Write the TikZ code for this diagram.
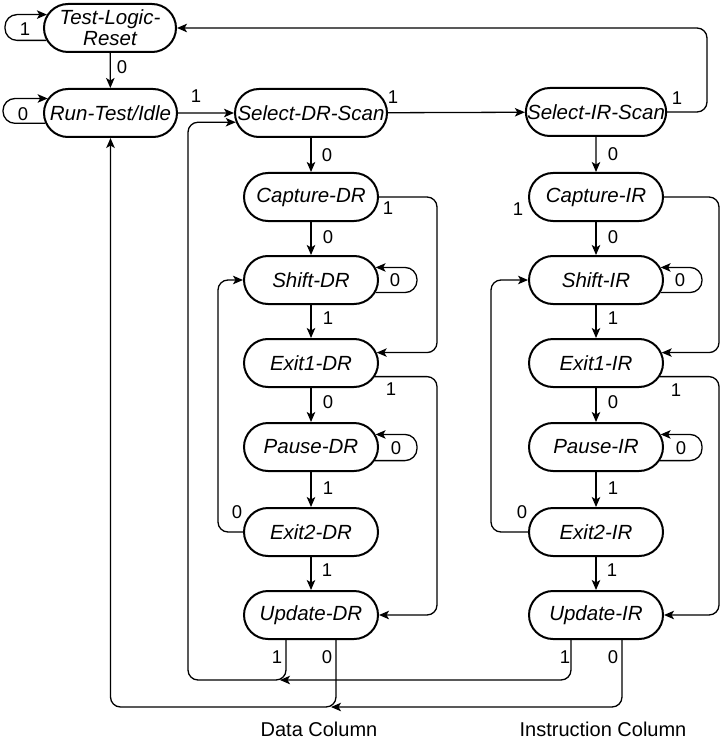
\documentclass[tikz,border=0pt]{standalone}
\usepackage{fontspec}
\setmainfont{Liberation Sans}
\usetikzlibrary{shapes.misc,arrows.meta}
\begin{document}
\begin{tikzpicture}[x=1pt,y=-1pt,
  st/.style={rounded rectangle, draw, line width=2pt, minimum height=48pt, minimum width=134pt, inner sep=0pt, font=\fontsize{20.5}{21}\selectfont\itshape, align=center},
  conn/.style={line width=1.3pt, -{Stealth[length=10pt,width=8.5pt,inset=2.5pt]}, rounded corners=10pt},
  lp/.style={conn, rounded corners=12pt},
  lab/.style={font=\fontsize{18.5}{20}\selectfont, inner sep=0pt},
  ttl/.style={font=\fontsize{20}{22}\selectfont, inner sep=0pt}]
\useasboundingbox (0,0) rectangle (725,743);

% states
\node[st, minimum width=132pt] (tlr) at (110,28) {Test-Logic-\\Reset};
\node[st, minimum width=133pt] (rti) at (110.5,113) {Run-Test/Idle};
\node[st, minimum width=152pt] (sdr) at (311,113) {Select-DR-Scan};
\node[st, minimum width=140pt] (sir) at (596,112) {Select-IR-Scan};

\node[st] (cdr) at (311,197) {Capture-DR};
\node[st] (shdr) at (311,280) {Shift-DR};
\node[st] (e1dr) at (311,363) {Exit1-DR};
\node[st] (pdr) at (311,447) {Pause-DR};
\node[st] (e2dr) at (311,532) {Exit2-DR};
\node[st] (udr) at (311,615) {Update-DR};

\node[st] (cir) at (596,197) {Capture-IR};
\node[st] (shir) at (596,280) {Shift-IR};
\node[st] (e1ir) at (596,363) {Exit1-IR};
\node[st] (pir) at (596,447) {Pause-IR};
\node[st] (e2ir) at (596,532) {Exit2-IR};
\node[st] (uir) at (596,615) {Update-IR};

% helper coordinates
\coordinate (xtl) at (5,0);
\coordinate (xrl) at (3,0);
\coordinate (xtop) at (707,28);
\coordinate (xdl) at (218,0);
\coordinate (xdr) at (437,0);
\coordinate (xdo) at (188,0);
\coordinate (xdloop) at (417,0);
\coordinate (xil) at (491,0);
\coordinate (xir) at (719,0);
\coordinate (xiloop) at (702,0);
\coordinate (yb1) at (0,680);
\coordinate (yb0) at (0,707);
\coordinate (xrti) at (110.5,0);
\coordinate (a1) at (280,680);
\coordinate (a0) at (331,707);

% top part
\draw[lp] (tlr.191) -| (xtl |- tlr.168) -- (tlr.168);
\draw[lp] (rti.189) -| (xrl |- rti.167) -- (rti.167);
\draw[conn] (tlr) -- (rti);
\draw[conn] (rti) -- (sdr);
\draw[conn] (sdr) -- (sir);
\draw[conn] (sir.east) -| (xtop) -- (tlr.east);

% data column
\draw[conn] (sdr) -- (cdr);
\draw[conn] (cdr) -- (shdr);
\draw[conn] (shdr) -- (e1dr);
\draw[conn] (e1dr) -- (pdr);
\draw[conn] (pdr) -- (e2dr);
\draw[conn] (e2dr) -- (udr);
\draw[conn] (cdr.east) -| (xdr |- e1dr.9.5) -- (e1dr.9.5);
\draw[conn] (e1dr.-12.4) -| (xdr |- udr.east) -- (udr.east);
\draw[lp] (shdr.-11.5) -| (xdloop |- shdr.11) -- (shdr.11);
\draw[lp] (pdr.-12) -| (xdloop |- pdr.11) -- (pdr.11);
\draw[conn] (e2dr.west) -| (xdl |- shdr.west) -- (shdr.west);
\draw[conn] ([xshift=-25pt]udr.south) |- (xdo |- yb1) |- (sdr.187);
\draw[conn] ([xshift=25pt]udr.south) |- (xrti |- yb0) -- (rti.south);

% instruction column
\draw[conn] (sir) -- (cir);
\draw[conn] (cir) -- (shir);
\draw[conn] (shir) -- (e1ir);
\draw[conn] (e1ir) -- (pir);
\draw[conn] (pir) -- (e2ir);
\draw[conn] (e2ir) -- (uir);
\draw[conn] (cir.east) -| (xir |- e1ir.9.5) -- (e1ir.9.5);
\draw[conn] (e1ir.-12.4) -| (xir |- uir.east) -- (uir.east);
\draw[lp] (shir.-11.5) -| (xiloop |- shir.11) -- (shir.11);
\draw[lp] (pir.-12) -| (xiloop |- pir.11) -- (pir.11);
\draw[conn] (e2ir.west) -| (xil |- shir.west) -- (shir.west);
\draw[conn] ([xshift=-25pt]uir.south) |- (a1);
\draw[conn] ([xshift=26pt]uir.south) |- (a0);

% labels
\node[lab] (l1) at (25,29) {1};
\node[lab] (l2) at (23,114) {0};
\node[lab] (l3) at (122,67) {0};
\node[lab] (l4) at (196,96) {1};
\node[lab] (l5) at (393,97) {1};
\node[lab] (l6) at (677,98) {1};

\node[lab] (d1) at (327,155) {0};
\node[lab] (d2) at (388,208) {1};
\node[lab] (d3) at (328,237) {0};
\node[lab] (d4) at (395,280) {0};
\node[lab] (d5) at (328,318) {1};
\node[lab] (d6) at (391,389) {1};
\node[lab] (d7) at (328,402) {0};
\node[lab] (d8) at (396,448) {0};
\node[lab] (d9) at (328,488) {1};
\node[lab] (d10) at (237,512) {0};
\node[lab] (d11) at (327,570) {1};
\node[lab] (d12) at (277,657) {1};
\node[lab] (d13) at (327,657) {0};

\node[lab] (i1) at (613,154) {0};
\node[lab] (i2) at (518,209) {1};
\node[lab] (i3) at (613,237) {0};
\node[lab] (i4) at (680,280) {0};
\node[lab] (i5) at (613,318) {1};
\node[lab] (i6) at (676,390) {1};
\node[lab] (i7) at (613,402) {0};
\node[lab] (i8) at (681,448) {0};
\node[lab] (i9) at (613,488) {1};
\node[lab] (i10) at (522,512) {0};
\node[lab] (i11) at (612,570) {1};
\node[lab] (i12) at (565,657) {1};
\node[lab] (i13) at (613,657) {0};

\node[ttl] (tdata) at (319,729) {Data Column};
\node[ttl] (tinst) at (603,729) {Instruction Column};
\end{tikzpicture}
\end{document}
